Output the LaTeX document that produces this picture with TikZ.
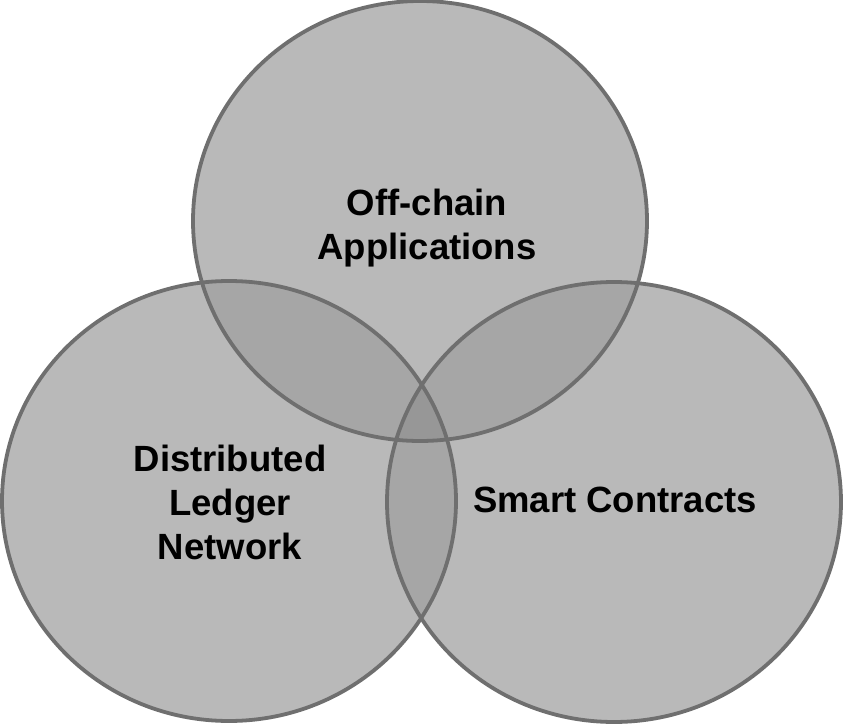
\documentclass[tikz,border=0pt]{standalone}
\usepackage{fontspec}
\setmainfont{Liberation Sans}
\definecolor{vsingle}{HTML}{B9B9B9}
\definecolor{vdouble}{HTML}{A6A6A6}
\definecolor{vtriple}{HTML}{979797}
\definecolor{vrim}{HTML}{6F6F6F}
\begin{document}
\begin{tikzpicture}[x=1pt,y=-1pt,
  rimline/.style={draw=vrim, line width=3.8pt},
  label/.style={font=\fontsize{36.5}{44}\selectfont\bfseries, align=center, text=black, inner sep=0pt}]
\useasboundingbox (0,0) rectangle (844,725);
\coordinate (ct) at (420,221);
\coordinate (cl) at (229,501);
\coordinate (cr) at (614,502);
\def\T{(ct) ellipse [x radius=227pt, y radius=220pt]}
\def\L{(cl) ellipse [x radius=227pt, y radius=220pt]}
\def\R{(cr) ellipse [x radius=227pt, y radius=220pt]}
\fill[vsingle] \T;
\fill[vsingle] \L;
\fill[vsingle] \R;
\begin{scope}
  \clip \T;
  \fill[vdouble] \L;
  \fill[vdouble] \R;
\end{scope}
\begin{scope}
  \clip \L;
  \fill[vdouble] \R;
\end{scope}
\begin{scope}
  \clip \T;
  \clip \L;
  \fill[vtriple] \R;
\end{scope}
\draw[rimline] \T;
\draw[rimline] \L;
\draw[rimline] \R;
\node[label] (tt) at (427,228) {Off-chain\\Applications};
\node[label] (tl) at (230,502) {Distributed\\Ledger\\Network};
\node[label] (tr) at (615,500) {Smart Contracts};
\end{tikzpicture}
\end{document}
